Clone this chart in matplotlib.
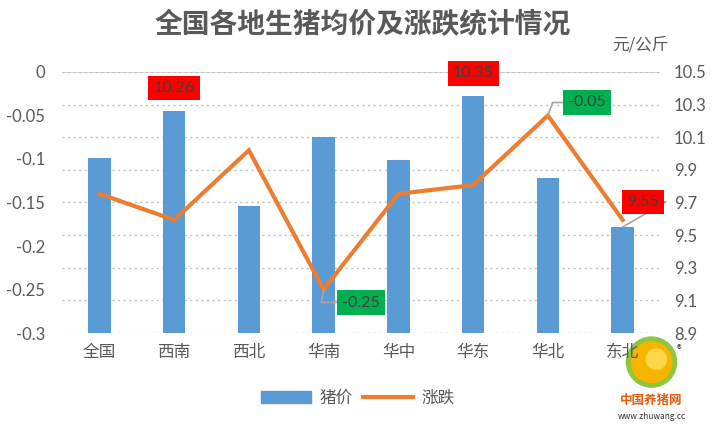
import matplotlib
matplotlib.use('Agg')
import matplotlib.pyplot as plt
from matplotlib.patches import Circle, Patch
from matplotlib.lines import Line2D

plt.rcParams['font.family'] = ['Noto Sans CJK SC', 'DejaVu Sans']

# Daten
regionen = ['全国', '西南', '西北', '华南', '华中', '华东', '华北', '东北']
preis = [9.97, 10.26, 9.68, 10.10, 9.96, 10.35, 9.85, 9.55]
aenderung = [-0.14, -0.17, -0.09, -0.25, -0.14, -0.13, -0.05, -0.17]
links_ticks = [0, -0.05, -0.1, -0.15, -0.2, -0.25, -0.3]
links_labels = ['0', '-0.05', '-0.1', '-0.15', '-0.2', '-0.25', '-0.3']
rechts_ticks = [8.9, 9.1, 9.3, 9.5, 9.7, 9.9, 10.1, 10.3, 10.5]

BLAU = '#5B9BD5'
ORANGE = '#ED7D31'
GRAU = '#595959'

fig = plt.figure(figsize=(7.16, 4.26), dpi=100)
ax1 = fig.add_axes([0.0866, 0.2183, 0.8352, 0.6127])
ax2 = ax1.twinx()

x = list(range(len(regionen)))

# Balken (rechte Achse)
ax2.bar(x, preis, width=0.3, color=BLAU, zorder=2)
ax2.set_ylim(8.9, 10.5)
ax2.set_yticks(rechts_ticks)
ax2.set_yticklabels([f'{t:.1f}' for t in rechts_ticks], family=['Lato', 'DejaVu Sans'])
ax2.yaxis.grid(True, linestyle=(0, (1.5, 2.5)), color='#BFBFBF', linewidth=1, zorder=0)
ax2.axhline(10.5, color='#D0D0D0', linewidth=1.2, zorder=1)

# Linie (linke Achse)
ax1.set_zorder(ax2.get_zorder() + 1)
ax1.patch.set_visible(False)
ax1.plot(x, aenderung, color=ORANGE, linewidth=3, solid_joinstyle='miter', zorder=3)
ax1.set_ylim(-0.3, 0)
ax1.set_yticks(links_ticks)
ax1.set_yticklabels(links_labels, family=['Lato', 'DejaVu Sans'])
ax1.set_xlim(-0.5, len(regionen) - 0.5)
ax1.set_xticks(x)
ax1.set_xticklabels(regionen)

for ax in (ax1, ax2):
    for s in ax.spines.values():
        s.set_visible(False)
    ax.tick_params(length=0, labelsize=12, colors=GRAU)
ax1.tick_params(axis='y', pad=12)
ax2.tick_params(axis='y', pad=10)
ax1.tick_params(axis='x', pad=8, labelsize=12)

# Datenbeschriftungen
def label(ax, xi, yi, txt, farbe, off, leader=False, winkel=70):
    pfeil = None
    if leader:
        pfeil = dict(arrowstyle='-', color='#A6A6A6', lw=1.2, shrinkA=0, shrinkB=0,
                     connectionstyle=f'angle,angleA=0,angleB={winkel}')
    ax.annotate(txt, xy=(xi, yi), xytext=off, textcoords='offset pixels',
                ha='center', va='center', fontsize=11.5, color='#404040',
                family=['Lato', 'DejaVu Sans'], zorder=5,
                bbox=dict(boxstyle='square,pad=0.32', fc=farbe, ec='none'),
                arrowprops=pfeil)

label(ax2, 1, preis[1], f'{preis[1]:.2f}', '#FF0000', (0, 23))
label(ax2, 5, preis[5], f'{preis[5]:.2f}', '#FF0000', (0, 23))
label(ax2, 7, preis[7], f'{preis[7]:.2f}', '#FF0000', (20, 25), leader=True, winkel=30)
label(ax1, 3, aenderung[3], f'{aenderung[3]:.2f}', '#00B050', (37, -13), leader=True, winkel=80)
label(ax1, 6, aenderung[6], f'{aenderung[6]:.2f}', '#00B050', (39, 13), leader=True, winkel=70)

# Titel und Einheit
fig.text(0.506, 0.94, '全国各地生猪均价及涨跌统计情况', ha='center', va='center',
         fontsize=20, fontweight='bold', color=GRAU)
fig.text(0.895, 0.895, '元/公斤', ha='center', va='center', fontsize=12, color=GRAU)

# Legende
handles = [Patch(color=BLAU), Line2D([0], [0], color=ORANGE, lw=3)]
fig.legend(handles, ['猪价', '涨跌'], loc='center', bbox_to_anchor=(0.5, 0.065),
           ncol=2, frameon=False, fontsize=12, labelcolor=GRAU,
           handlelength=3, handleheight=0.8, columnspacing=0.6, handletextpad=0.5)

# Logo (vereinfacht)
logo = fig.add_axes([0.86, 0.08, 0.1, 0.14])
logo.set_xlim(0, 1)
logo.set_ylim(0, 1)
logo.axis('off')
logo.set_aspect('equal')
logo.add_patch(Circle((0.5, 0.5), 0.42, color='#8DC63F'))
logo.add_patch(Circle((0.5, 0.5), 0.34, color='#F7B500'))
logo.add_patch(Circle((0.58, 0.55), 0.17, color='#FFD54A'))
fig.text(0.945, 0.17, '®', fontsize=7, color='#333333')
fig.text(0.91, 0.06, '中国养猪网', ha='center', va='center', fontsize=9,
         fontweight='bold', color='#E85D0C')
fig.text(0.91, 0.022, 'www.zhuwang.cc', ha='center', va='center', fontsize=6,
         color='#333333')

fig.savefig('out.png', dpi=100)
